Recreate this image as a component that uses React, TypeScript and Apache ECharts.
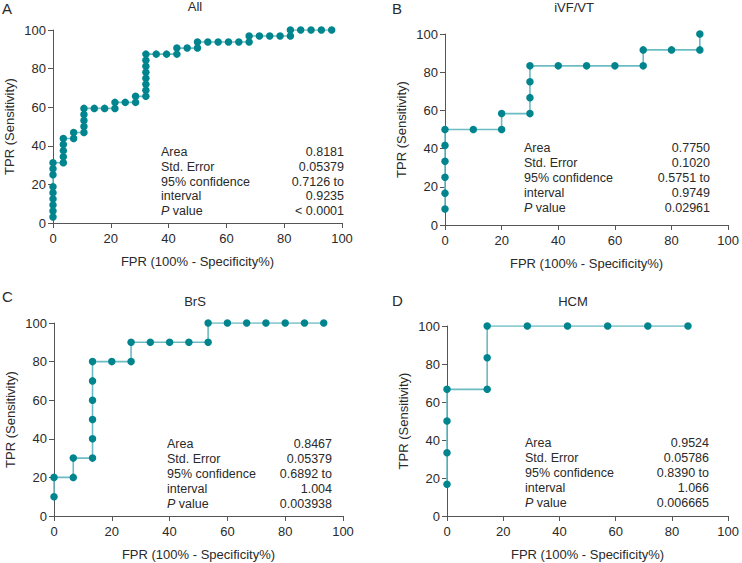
import React, { useEffect, useRef } from "react";
import * as echarts from "echarts";

// Panel A: All
const fprAll = [0, 0, 0, 0, 0, 0, 0, 0, 0, 3.57, 3.57, 3.57, 3.57, 3.57, 7.14, 7.14, 10.71, 10.71, 10.71, 10.71, 10.71, 14.29, 17.86, 21.43, 21.43, 25, 28.57, 28.57, 32.14, 32.14, 32.14, 32.14, 32.14, 32.14, 32.14, 32.14, 35.71, 39.29, 42.86, 42.86, 46.43, 50, 50, 53.57, 57.14, 60.71, 64.29, 67.86, 67.86, 71.43, 75, 78.57, 82.14, 82.14, 85.71, 89.29, 92.86, 96.43];
const tprAll = [3.13, 6.25, 9.38, 12.5, 15.63, 18.75, 25, 28.13, 31.25, 31.25, 34.38, 37.5, 40.63, 43.75, 43.75, 46.88, 46.88, 50, 53.13, 56.25, 59.38, 59.38, 59.38, 59.38, 62.5, 62.5, 62.5, 65.63, 65.63, 68.75, 71.88, 75, 78.13, 81.25, 84.38, 87.5, 87.5, 87.5, 87.5, 90.63, 90.63, 90.63, 93.75, 93.75, 93.75, 93.75, 93.75, 93.75, 96.88, 96.88, 96.88, 96.88, 96.88, 100, 100, 100, 100, 100];

// Panel B: iVF/VT
const fprVF = [0, 0, 0, 0, 0, 0, 10, 20, 20, 30, 30, 30, 30, 40, 50, 60, 70, 70, 80, 90, 90];
const tprVF = [8.33, 16.67, 25, 33.33, 41.67, 50, 50, 50, 58.33, 58.33, 66.67, 75, 83.33, 83.33, 83.33, 83.33, 83.33, 91.67, 91.67, 91.67, 100];

// Panel C: BrS
const fprBrS = [0, 0, 6.67, 6.67, 13.33, 13.33, 13.33, 13.33, 13.33, 13.33, 20, 26.67, 26.67, 33.33, 40, 46.67, 53.33, 53.33, 60, 66.67, 73.33, 80, 86.67, 93.33];
const tprBrS = [10, 20, 20, 30, 30, 40, 50, 60, 70, 80, 80, 80, 90, 90, 90, 90, 90, 100, 100, 100, 100, 100, 100, 100];

// Panel D: HCM
const fprHCM = [0, 0, 0, 0, 14.29, 14.29, 14.29, 28.57, 42.86, 57.14, 71.43, 85.71];
const tprHCM = [16.67, 33.33, 50, 66.67, 66.67, 83.33, 100, 100, 100, 100, 100, 100];

const xTicks = [0, 20, 40, 60, 80, 100];
const yTicks = [0, 20, 40, 60, 80, 100];

const panelLetters = ["A", "B", "C", "D"];
const panelTitles = ["All", "iVF/VT", "BrS", "HCM"];
const statLabels = ["Area", "Std. Error", "95% confidence", "interval", "P value"];
const statsAll = ["0.8181", "0.05379", "0.7126 to", "0.9235", "< 0.0001"];
const statsVF = ["0.7750", "0.1020", "0.5751 to", "0.9749", "0.02961"];
const statsBrS = ["0.8467", "0.05379", "0.6892 to", "1.004", "0.003938"];
const statsHCM = ["0.9524", "0.05786", "0.8390 to", "1.066", "0.006665"];

const xName = "FPR (100% - Specificity%)";
const yName = "TPR (Sensitivity)";

const FONT = "'Liberation Sans', Arial, Helvetica, sans-serif";
const TEXT = "#2a2a2a";
const AXIS = "#555555";
const DOT = "#00858e";
const LINE = "#6cbcc3";

export default function App() {
  const ref = useRef<HTMLDivElement>(null);
  useEffect(() => {
    if (!ref.current) return;
    const chart = echarts.init(ref.current, null, { renderer: "svg" });

    const grids = [
      { left: 53, top: 30, width: 289, height: 193 },
      { left: 445, top: 34, width: 285, height: 191 },
      { left: 54, top: 323, width: 289, height: 193 },
      { left: 447, top: 326, width: 284, height: 190 },
    ];
    const xs = [fprAll, fprVF, fprBrS, fprHCM];
    const ys = [tprAll, tprVF, tprBrS, tprHCM];
    const stats = [statsAll, statsVF, statsBrS, statsHCM];

    const axisCommon = {
      min: 0,
      max: 100,
      interval: 20,
      splitLine: { show: false },
      axisLine: { show: true, lineStyle: { color: AXIS, width: 1 } },
      axisTick: { show: true, length: 5, inside: false, lineStyle: { color: AXIS } },
      nameTextStyle: { color: TEXT, fontSize: 13, fontFamily: FONT },
    };

    const xAxis = grids.map((_, i) => ({
      ...axisCommon,
      type: "value",
      gridIndex: i,
      name: xName,
      nameLocation: "middle",
      nameGap: 32,
      axisLabel: {
        color: TEXT, fontSize: 13, fontFamily: FONT, margin: 9,
        formatter: (v: number) => (xTicks.includes(v) ? String(v) : ""),
      },
    }));
    const yAxis = grids.map((_, i) => ({
      ...axisCommon,
      type: "value",
      gridIndex: i,
      name: yName,
      nameLocation: "middle",
      nameGap: 37,
      axisLabel: {
        color: TEXT, fontSize: 13, fontFamily: FONT, margin: 7,
        formatter: (v: number) => (yTicks.includes(v) ? String(v) : ""),
      },
    }));

    const series = xs.map((xv, i) => ({
      type: "line",
      xAxisIndex: i,
      yAxisIndex: i,
      data: xv.map((x, j) => [x, ys[i][j]]),
      symbol: "circle",
      symbolSize: 7.5,
      showSymbol: true,
      lineStyle: { color: LINE, width: 1.6 },
      itemStyle: { color: DOT, borderWidth: 0 },
      z: 3,
    }));

    // text layout for letters, titles and stats
    const letterPos = [[2, 1], [392, 1], [2, 289], [392, 293]];
    const titlePos = [[195, 6], [574, 7], [195, 301], [573, 301]];
    const statPos = [
      { left: 161, right: 344, top: 152, step: 14.8 },
      { left: 524, right: 710, top: 148, step: 15 },
      { left: 167, right: 332, top: 444, step: 15 },
      { left: 525, right: 709, top: 443, step: 15 },
    ];

    const graphic: any[] = [];
    for (let i = 0; i < 4; i++) {
      graphic.push({
        type: "text", x: letterPos[i][0], y: letterPos[i][1],
        style: { text: panelLetters[i], fill: TEXT, font: `15px ${FONT}`, verticalAlign: "top" },
      });
      graphic.push({
        type: "text", x: titlePos[i][0], y: titlePos[i][1],
        style: { text: panelTitles[i], fill: TEXT, font: `13px ${FONT}`, align: "center", verticalAlign: "middle" },
      });
      const sp = statPos[i];
      statLabels.forEach((lab, r) => {
        const y = sp.top + r * sp.step;
        if (lab === "P value") {
          graphic.push({
            type: "text", x: sp.left, y,
            style: {
              text: "{i|P} value", fill: TEXT, font: `12.5px ${FONT}`, verticalAlign: "middle",
              rich: { i: { fontStyle: "italic", fontSize: 12.5, fontFamily: FONT, fill: TEXT } },
            },
          });
        } else {
          graphic.push({
            type: "text", x: sp.left, y,
            style: { text: lab, fill: TEXT, font: `12.5px ${FONT}`, verticalAlign: "middle" },
          });
        }
        graphic.push({
          type: "text", x: sp.right, y,
          style: { text: stats[i][r], fill: TEXT, font: `12.5px ${FONT}`, align: "right", verticalAlign: "middle" },
        });
      });
    }

    chart.setOption({
      animation: false,
      backgroundColor: "#ffffff",
      textStyle: { fontFamily: FONT },
      grid: grids.map((g) => ({ ...g, containLabel: false })),
      xAxis,
      yAxis,
      series,
      graphic,
    } as any);

    return () => chart.dispose();
  }, []);

  return (
    <div
      ref={ref}
      style={{ position: "fixed", left: 0, top: 0, width: 742, height: 563 }}
    />
  );
}
